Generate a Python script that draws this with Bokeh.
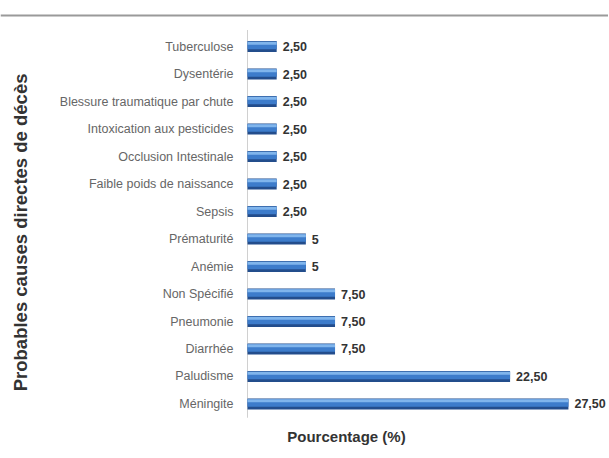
import math
from bokeh.plotting import figure
from bokeh.models import ColumnDataSource, Range1d, Span
from bokeh.core.properties import value
from bokeh.embed import file_html
from bokeh.resources import INLINE

# ---- data (bottom to top) ----
categories = ["Méningite", "Paludisme", "Diarrhée", "Pneumonie", "Non Spécifié",
              "Anémie", "Prématurité", "Sepsis", "Faible poids de naissance",
              "Occlusion Intestinale", "Intoxication aux pesticides",
              "Blessure traumatique par chute", "Dysentérie", "Tuberculose"]
values = [27.5, 22.5, 7.5, 7.5, 7.5, 5, 5, 2.5, 2.5, 2.5, 2.5, 2.5, 2.5, 2.5]
value_labels = ["27,50", "22,50", "7,50", "7,50", "7,50", "5", "5",
                "2,50", "2,50", "2,50", "2,50", "2,50", "2,50", "2,50"]
x_title = "Pourcentage (%)"
y_title = "Probables causes directes de décès"

ypos = list(range(len(categories)))
src = ColumnDataSource(dict(y=ypos, v=values, cat=categories, lab=value_labels,
                            y_mid=[y + 0.035 for y in ypos],
                            y_top=[y + 0.12 for y in ypos]))

W, H = 608, 450
PX = 11.67  # pixels per percent
p = figure(width=W, height=H, output_backend="svg", toolbar_location=None,
           x_range=Range1d(-247 / PX, (W - 247) / PX), y_range=Range1d(-1.691, 14.673),
           min_border=0, x_axis_location=None, y_axis_location=None)
p.outline_line_color = None
p.xgrid.visible = False
p.ygrid.visible = False
p.background_fill_color = "white"
p.border_fill_color = "white"

# top rule
p.add_layout(Span(location=14.13, dimension="width", line_color="#9a9a9a", line_width=2))

# vertical axis line
p.segment(x0=[0], y0=[-0.5], x1=[0], y1=[13.6], line_color="#d0d0d0", line_width=1)

# bars with pseudo gradient
p.hbar(y="y", left=0, right="v", height=0.40, source=src, fill_color="#234d8c", line_color=None)
p.hbar(y="y_mid", left=0, right="v", height=0.27, source=src, fill_color="#3d7ccb", line_color=None)
p.hbar(y="y_top", left=0, right="v", height=0.11, source=src, fill_color="#80b5ec", line_color=None)

# category labels
p.text(x=0, y="y", text="cat", source=src, x_offset=-14, text_align="right",
       text_baseline="middle", text_font=value("Liberation Sans"), text_font_size="12.5px",
       text_color="#666666")

# value labels
p.text(x="v", y="y", text="lab", source=src, x_offset=6, text_align="left",
       text_baseline="middle", text_font=value("Liberation Sans"), text_font_size="12.5px",
       text_font_style="bold", text_color="#333333")

# axis titles
p.text(x=[8.48], y=[-1.18], text=[x_title], text_align="center", text_baseline="middle",
       text_font=value("Liberation Sans"), text_font_size="15px", text_font_style="bold",
       text_color="#333333")
p.text(x=[-19.45], y=[6.24], text=[y_title], angle=math.pi / 2, text_align="center",
       text_baseline="middle", text_font=value("Liberation Sans"), text_font_size="18.5px",
       text_font_style="bold", text_color="#333333")

open("out.html", "w").write(file_html(p, INLINE))
